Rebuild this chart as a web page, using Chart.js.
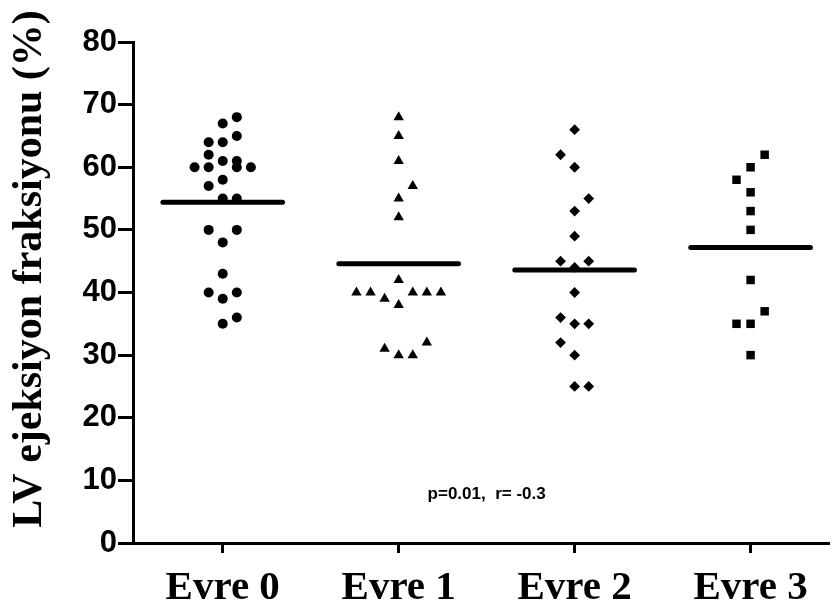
<!DOCTYPE html>
<html>
<head>
<meta charset="utf-8">
<script src="https://cdn.jsdelivr.net/npm/chart.js@4.4.1/dist/chart.umd.min.js"></script>
<style>
  html, body { margin: 0; padding: 0; background: #fff; }
</style>
</head>
<body>
<canvas id="myChart" width="834" height="612"></canvas>
<script>
var groups = ["Evre 0", "Evre 1", "Evre 2", "Evre 3"];
var yTicks = [0, 10, 20, 30, 40, 50, 60, 70, 80];

// values, with the column each dot sits in (jitter slot)
var evre0 = [68, 67, 65, 64, 64, 62, 61, 61, 60, 60, 60, 60, 58, 57, 55, 55, 50, 50, 48, 43, 40, 40, 39, 36, 35];
var evre0Slot = [1, 0, 1, -1, 0, -1, 0, 1, -2, -1, 1, 2, 0, -1, 0, 1, -1, 1, 0, 0, -1, 1, 0, 1, 0];
var evre1 = [68, 65, 61, 57, 55, 52, 42, 40, 40, 40, 40, 40, 39, 38, 31, 30, 30, 32];
var evre1Slot = [0, 0, 0, 1, 0, 0, 0, -3, -2, 1, 2, 3, -1, 0, -1, 0, 1, 2];
var evre2 = [66, 62, 60, 55, 53, 49, 45, 45, 44, 40, 36, 35, 35, 32, 30, 25, 25];
var evre2Slot = [0, -1, 0, 1, 0, 0, -1, 1, 0, 0, -1, 0, 1, -1, 0, 0, 1];
var evre3 = [62, 60, 58, 56, 53, 50, 42, 37, 35, 35, 30];
var evre3Slot = [1, 0, -1, 0, 0, 0, 0, 1, -1, 0, 0];

var means = [54.4, 44.6, 43.6, 47.2];
var note = "p=0.01,  r= -0.3";
var yTitle = "LV ejeksiyon fraksiyonu (%)";

var slotWidth = 0.08;
var meanHalf = 0.34;

function points(g, vals, slots) {
    return vals.map(function (v, i) { return { x: g + slots[i] * slotWidth, y: v }; });
}

var series = [evre0, evre1, evre2, evre3];
var slots = [evre0Slot, evre1Slot, evre2Slot, evre3Slot];
var styles = ['circle', 'triangle', 'rectRot', 'rect'];
var radii = [5, 6, 5.4, 6];

var datasets = [];
series.forEach(function (vals, g) {
    datasets.push({
        type: 'scatter',
        data: points(g, vals, slots[g]),
        pointStyle: styles[g],
        pointRadius: radii[g],
        backgroundColor: '#000',
        borderColor: '#000',
        borderWidth: 0
    });
});
means.forEach(function (m, g) {
    datasets.push({
        type: 'line',
        data: [{ x: g - meanHalf, y: m }, { x: g + meanHalf, y: m }],
        borderColor: '#000',
        borderWidth: 5,
        borderCapStyle: 'round',
        pointRadius: 0,
        fill: false
    });
});

var textPlugin = {
    id: 'texts',
    afterDraw: function (chart) {
        var ctx = chart.ctx;
        var xs = chart.scales.x, ys = chart.scales.y;
        ctx.save();
        ctx.fillStyle = '#000';
        ctx.font = 'bold 17px "Liberation Sans", Arial, sans-serif';
        ctx.textAlign = 'center';
        ctx.textBaseline = 'middle';
        ctx.fillText(note, xs.getPixelForValue(1.5), ys.getPixelForValue(7.8));
        ctx.translate(30, 269);
        ctx.rotate(-Math.PI / 2);
        ctx.font = 'bold 42px "Liberation Serif", "Times New Roman", serif';
        ctx.fillText(yTitle, 0, 0);
        ctx.restore();
    }
};

var ctx = document.getElementById('myChart').getContext('2d');
var myChart = new Chart(ctx, {
    data: { datasets: datasets },
    options: {
        responsive: false,
        animation: false,
        layout: { padding: { top: 42, right: 0, bottom: 0, left: 0 } },
        plugins: { legend: { display: false }, tooltip: { enabled: false } },
        scales: {
            x: {
                type: 'linear',
                min: -0.51,
                max: 3.44,
                afterBuildTicks: function (scale) {
                    scale.ticks = groups.map(function (g, i) { return { value: i }; });
                },
                afterFit: function (scale) { scale.height = 69; },
                ticks: {
                    color: '#000',
                    padding: 11,
                    font: { family: '"Liberation Serif", "Times New Roman", serif', size: 41, weight: 'bold' },
                    callback: function (v) { return groups[v]; }
                },
                grid: { drawOnChartArea: false, color: '#000', lineWidth: 3, tickLength: 10 },
                border: { color: '#000', width: 3 }
            },
            y: {
                min: 0,
                max: 80,
                afterBuildTicks: function (scale) {
                    scale.ticks = yTicks.map(function (v) { return { value: v }; });
                },
                afterFit: function (scale) { scale.width = 133; },
                ticks: {
                    color: '#000',
                    padding: 1,
                    font: { family: '"Liberation Sans", Arial, sans-serif', size: 31, weight: 'bold' }
                },
                grid: { drawOnChartArea: false, color: '#000', lineWidth: 3, tickLength: 15 },
                border: { color: '#000', width: 3 }
            }
        }
    },
    plugins: [textPlugin]
});
</script>
</body>
</html>
